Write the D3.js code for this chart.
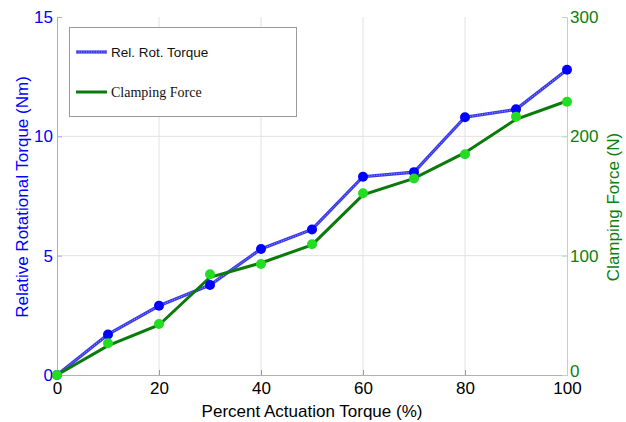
<!DOCTYPE html>
<html><head><meta charset="utf-8">
<script src="https://cdn.jsdelivr.net/npm/d3@7"></script>
<style>body{margin:0;background:#fff}svg{display:block}</style>
</head><body>
<svg id="c" width="626" height="422"></svg>
<script>
const percent = [0,10,20,30,40,50,60,70,80,90,100];
const torqueNm = [0,1.70,2.90,3.77,5.28,6.10,8.31,8.50,10.80,11.13,12.79];
const clampMarkersN = [0,26.6,42.7,84.4,93.0,109.5,152.3,164.7,185.0,216.5,229.0];
const clampLineN = [0,24.6,41.9,81.9,93.9,109.0,150.9,164.8,186.3,214.3,229.6];
const xTicks = [0,20,40,60,80,100];
const leftTicks = [0,5,10,15];
const rightTicks = [0,100,200,300];

const svg = d3.select("#c");
const L=57, R=567, T=17, B=375;
const x = d3.scaleLinear().domain([0,100]).range([L,R]);
const yL = d3.scaleLinear().domain([0,15]).range([B,T]);
const yR = d3.scaleLinear().domain([0,300]).range([B,T]);
const font = "Liberation Sans, Arial, Helvetica, sans-serif";
const blue="#0000ff", green="#0c800c";

// grid
const g = svg.append("g");
g.selectAll("line.vg").data(xTicks.filter(d=>d>0&&d<100)).join("line")
 .attr("x1",d=>x(d)).attr("x2",d=>x(d)).attr("y1",T).attr("y2",B)
 .attr("stroke","#e2e2e2").attr("stroke-width",1);
g.selectAll("line.hg").data(leftTicks.filter(d=>d>0&&d<15)).join("line")
 .attr("x1",L).attr("x2",R).attr("y1",d=>yL(d)).attr("y2",d=>yL(d))
 .attr("stroke","#e2e2e2").attr("stroke-width",1);

// axes
const xAxis = svg.append("g").attr("transform",`translate(0,${B})`)
 .call(d3.axisBottom(x).tickValues(xTicks).tickSize(-5).tickPadding(8).tickFormat(d3.format("d")));
xAxis.select(".domain").attr("stroke","#b0b0b0");
xAxis.selectAll(".tick line").attr("stroke","#999");
xAxis.selectAll("text").attr("font-family",font).attr("font-size",17).attr("fill","#000").attr("dy","0.62em");

const yAxisL = svg.append("g").attr("transform",`translate(${L},0)`)
 .call(d3.axisLeft(yL).tickValues(leftTicks).tickSize(-5).tickPadding(4).tickFormat(d3.format("d")));
yAxisL.select(".domain").attr("stroke","#a8a8f0");
yAxisL.selectAll(".tick line").attr("stroke","#a8a8f0");
yAxisL.selectAll("text").attr("font-family",font).attr("font-size",17).attr("fill",blue);

const yAxisR = svg.append("g").attr("transform",`translate(${R},0)`)
 .call(d3.axisRight(yR).tickValues(rightTicks).tickSize(-5).tickPadding(3).tickFormat(d3.format("d")));
yAxisR.select(".domain").attr("stroke","#b8d8b8");
yAxisR.selectAll(".tick line").attr("stroke","#b8d8b8");
yAxisR.selectAll("text").attr("font-family",font).attr("font-size",17).attr("fill",green);
yAxisR.selectAll(".tick").filter(d=>d===0).select("text").attr("dy","0.1em");

// titles
svg.append("text").attr("x",312).attr("y",417).attr("text-anchor","middle")
 .attr("font-family",font).attr("font-size",17).attr("fill","#000").text("Percent Actuation Torque (%)");
svg.append("text").attr("transform","translate(28,197) rotate(-90)").attr("text-anchor","middle")
 .attr("font-family",font).attr("font-size",17).attr("fill",blue).text("Relative Rotational Torque (Nm)");
svg.append("text").attr("transform","translate(619,207) rotate(-90)").attr("text-anchor","middle")
 .attr("font-family",font).attr("font-size",17).attr("fill",green).text("Clamping Force (N)");

// blue line
const lineL = d3.line().x((d,i)=>x(percent[i])).y(d=>yL(d));
svg.append("path").attr("d",lineL(torqueNm)).attr("fill","none").attr("stroke","#3a3ae8").attr("stroke-width",3.2);
svg.append("path").attr("d",lineL(torqueNm)).attr("fill","none").attr("stroke","#9a9aff").attr("stroke-width",1).attr("stroke-dasharray","1,1.5");

// green line
const lineR = d3.line().x((d,i)=>x(percent[i])).y(d=>yR(d));
svg.append("path").attr("d",lineR(clampLineN)).attr("fill","none").attr("stroke","#0a7a0a").attr("stroke-width",3);

// markers
svg.selectAll("circle.b").data(torqueNm).join("circle")
 .attr("cx",(d,i)=>x(percent[i])).attr("cy",d=>yL(d)).attr("r",5).attr("fill",blue);
svg.selectAll("circle.g").data(clampMarkersN).join("circle")
 .attr("cx",(d,i)=>x(percent[i])).attr("cy",d=>yR(d)).attr("r",5).attr("fill","#22dd22");

// legend
const lg = svg.append("g");
lg.append("rect").attr("x",69.5).attr("y",27.5).attr("width",227).attr("height",89)
 .attr("fill","#fff").attr("stroke","#9a9a9a").attr("stroke-width",1);
lg.append("line").attr("x1",76).attr("x2",107).attr("y1",52).attr("y2",52).attr("stroke","#3a3ae8").attr("stroke-width",3.2);
lg.append("line").attr("x1",76).attr("x2",107).attr("y1",52).attr("y2",52).attr("stroke","#9a9aff").attr("stroke-width",1).attr("stroke-dasharray","1,1.5");
lg.append("text").attr("x",111).attr("y",57).attr("font-family",font).attr("font-size",13.5).attr("fill","#111").text("Rel. Rot. Torque");
lg.append("line").attr("x1",76).attr("x2",107).attr("y1",92).attr("y2",92).attr("stroke","#0a7a0a").attr("stroke-width",3);
lg.append("text").attr("x",111).attr("y",96.5).attr("font-family","Liberation Serif, Times New Roman, serif").attr("font-size",14).attr("fill","#111").text("Clamping Force");
</script>
</body></html>
